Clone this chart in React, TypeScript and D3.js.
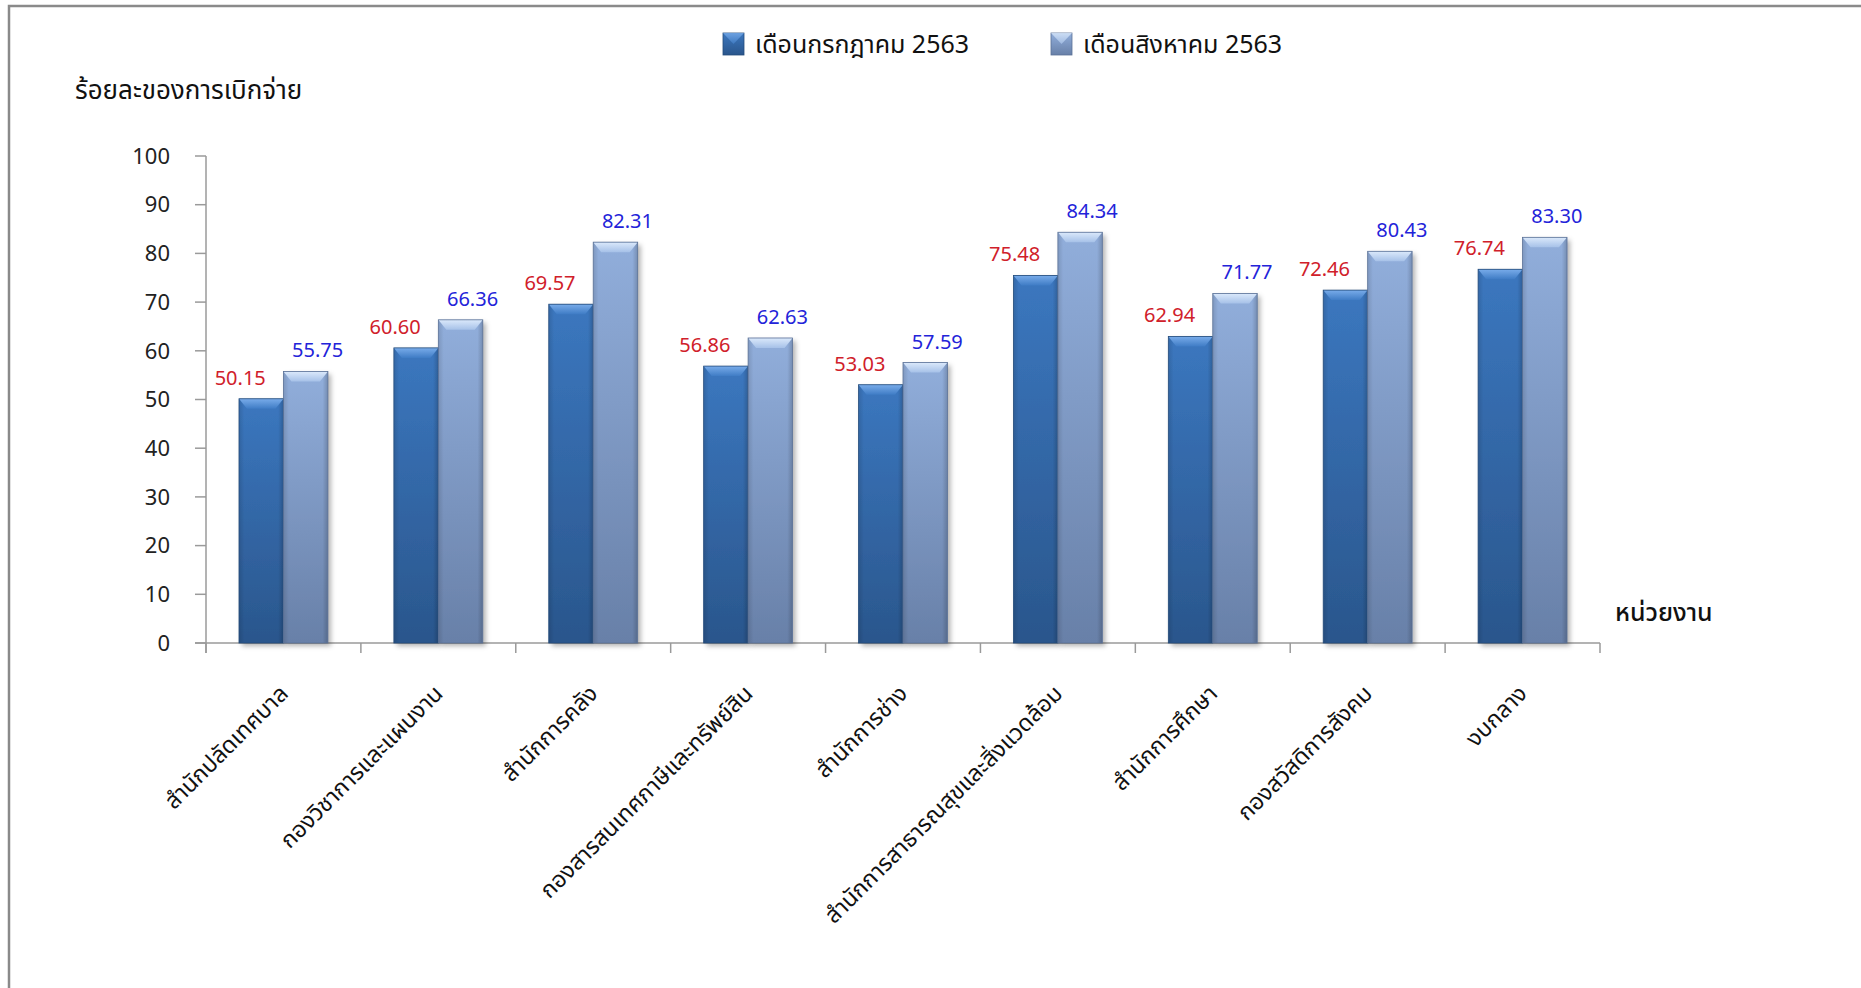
import React from 'react'
import * as d3 from 'd3'

const categories = [
    'สำนักปลัดเทศบาล',
    'กองวิชาการและแผนงาน',
    'สำนักการคลัง',
    'กองสารสนเทศภาษีและทรัพย์สิน',
    'สำนักการช่าง',
    'สำนักการสาธารณสุขและสิ่งแวดล้อม',
    'สำนักการศึกษา',
    'กองสวัสดิการสังคม',
    'งบกลาง',
]
const seriesNames = ['เดือนกรกฎาคม 2563', 'เดือนสิงหาคม 2563']
const july = [50.15, 60.60, 69.57, 56.86, 53.03, 75.48, 62.94, 72.46, 76.74]
const august = [55.75, 66.36, 82.31, 62.63, 57.59, 84.34, 71.77, 80.43, 83.30]
const yTicks = [0, 10, 20, 30, 40, 50, 60, 70, 80, 90, 100]

const W = 1861
const H = 988
const FONT = "'Noto Sans Thai', Tahoma, 'Noto Sans', sans-serif"

// colours per series
const palette = [
    { bevA: '#79acea', bevB: '#3f7cc5', top: '#3b77bf', bottom: '#2a568c', edge: '#244b7a', label: '#d0202a' },
    { bevA: '#dbe9fb', bevB: '#a6c1e8', top: '#91aedb', bottom: '#6880a8', edge: '#5a7196', label: '#2323d9' },
]
const labelDx = [-21, 12]

export default function App() {
    const margin = { left: 206, right: 261, top: 156, bottom: 345 }
    const baseY = H - margin.bottom

    const x0 = d3.scaleBand<string>()
        .domain(categories)
        .range([margin.left, W - margin.right])
        .paddingInner(0.426)
        .paddingOuter(0.213)
    const x1 = d3.scaleBand<number>()
        .domain([0, 1])
        .range([0, x0.bandwidth()])
    const y = d3.scaleLinear().domain([0, 100]).range([baseY, margin.top])

    const step = x0.step()
    const boundaries = d3.range(categories.length + 1).map(i => margin.left + i * step)
    const series = [july, august]
    const bw = x1.bandwidth()

    return (
        <svg width={W} height={H} style={{ position: 'absolute', left: 0, top: 0, background: '#fff' }} fontFamily={FONT}>
            <defs>
                {palette.map((p, i) => (
                    <React.Fragment key={i}>
                        <linearGradient id={`body${i}`} x1="0" y1="0" x2="0" y2="1">
                            <stop offset="0" stopColor={p.top} />
                            <stop offset="1" stopColor={p.bottom} />
                        </linearGradient>
                        <linearGradient id={`bev${i}`} x1="0" y1="0" x2="0" y2="1">
                            <stop offset="0" stopColor={p.bevA} />
                            <stop offset="1" stopColor={p.bevB} />
                        </linearGradient>
                        <linearGradient id={`side${i}`} x1="0" y1="0" x2="1" y2="0">
                            <stop offset="0" stopColor="#000" stopOpacity="0.12" />
                            <stop offset="0.12" stopColor="#000" stopOpacity="0" />
                            <stop offset="0.88" stopColor="#000" stopOpacity="0" />
                            <stop offset="1" stopColor="#000" stopOpacity="0.18" />
                        </linearGradient>
                    </React.Fragment>
                ))}
                <filter id="shadow" x="-20%" y="-5%" width="150%" height="115%">
                    <feDropShadow dx="3" dy="3" stdDeviation="2.5" floodColor="#000" floodOpacity="0.3" />
                </filter>
            </defs>

            {/* outer frame */}
            <rect x={9} y={6} width={W + 20} height={H + 20} fill="none" stroke="#8a8a8a" strokeWidth={2.5} />

            {/* legend */}
            {seriesNames.map((name, i) => {
                const lx = i === 0 ? 723 : 1051
                return (
                    <g key={name}>
                        <rect x={lx} y={33} width={21} height={22} fill={`url(#body${i})`} stroke={palette[i].edge} strokeWidth={0.8} />
                        <path d={`M${lx},33 L${lx + 21},33 L${lx + 10.5},44 Z`} fill={`url(#bev${i})`} opacity={0.8} />
                        <text x={lx + 32} y={53} fontSize={25} fill="#111">{name}</text>
                    </g>
                )
            })}

            {/* axis titles */}
            <text x={75} y={99} fontSize={26} fill="#111">ร้อยละของการเบิกจ่าย</text>
            <text x={1615} y={621} fontSize={25} fill="#111" fontWeight={500}>หน่วยงาน</text>

            {/* y axis */}
            <line x1={margin.left} x2={margin.left} y1={margin.top} y2={baseY + 10} stroke="#9a9a9a" strokeWidth={1.5} />
            {yTicks.map(t => (
                <g key={t}>
                    <line x1={margin.left - 11} x2={margin.left} y1={y(t)} y2={y(t)} stroke="#9a9a9a" strokeWidth={1.5} />
                    <text x={170} y={y(t)} dy="0.35em" textAnchor="end" fontSize={22} fill="#222">{t}</text>
                </g>
            ))}

            {/* x axis */}
            <line x1={margin.left - 11} x2={W - margin.right} y1={baseY} y2={baseY} stroke="#9a9a9a" strokeWidth={1.5} />
            {boundaries.map((bx, i) => (
                <line key={i} x1={bx} x2={bx} y1={baseY} y2={baseY + 10} stroke="#9a9a9a" strokeWidth={1.5} />
            ))}

            {/* bars */}
            {categories.map((c, ci) => (
                <g key={c} transform={`translate(${x0(c)},0)`}>
                    {series.map((vals, si) => {
                        const bx = x1(si)!
                        const top = y(vals[ci])
                        const h = baseY - top
                        const bev = 10
                        const ins = 8
                        return (
                            <g key={si}>
                                <rect x={bx} y={top} width={bw} height={h} fill={`url(#body${si})`} filter="url(#shadow)" />
                                <rect x={bx} y={top} width={bw} height={h} fill={`url(#side${si})`} />
                                <path d={`M${bx},${top} L${bx + bw},${top} L${bx + bw - ins},${top + bev} L${bx + ins},${top + bev} Z`} fill={`url(#bev${si})`} />
                                <rect x={bx} y={top} width={bw} height={h} fill="none" stroke={palette[si].edge} strokeWidth={0.8} />
                            </g>
                        )
                    })}
                </g>
            ))}

            {/* value labels */}
            {categories.map((c, ci) => series.map((vals, si) => (
                <text key={`${c}-${si}`}
                    x={x0(c)! + x1(si)! + bw / 2 + labelDx[si]}
                    y={y(vals[ci]) - 14}
                    textAnchor="middle" fontSize={20} fill={palette[si].label}>
                    {vals[ci].toFixed(2)}
                </text>
            )))}

            {/* category labels */}
            {categories.map(c => {
                const cx = x0(c)! + x0.bandwidth() / 2
                return (
                    <text key={c} transform={`translate(${cx + 6},${baseY + 52}) rotate(-45)`}
                        textAnchor="end" fontSize={23} fill="#111">{c}</text>
                )
            })}
        </svg>
    )
}
